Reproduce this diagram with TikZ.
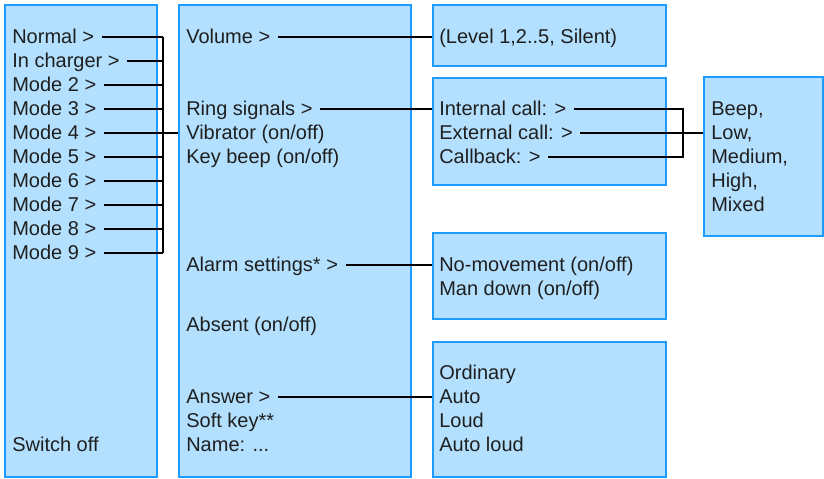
\documentclass[tikz,border=0pt]{standalone}
\usepackage{fontspec}
\setmainfont{Liberation Sans}
\usepackage{tikz}
\usetikzlibrary{positioning}
\definecolor{menufill}{HTML}{B3E0FF}
\definecolor{menuline}{HTML}{1E9BFF}
\tikzstyle{menu}=[rectangle, draw=menuline, fill=menufill, line width=1.5pt, anchor=north west, inner sep=0pt]
\tikzstyle{item}=[anchor=west, inner xsep=5.5pt, inner ysep=0pt, font=\fontsize{15}{18}\selectfont, text=black!88]
\tikzstyle{link}=[line width=1.6pt, black]

\begin{document}
\begin{tikzpicture}[x=0.75pt,y=-0.75pt,text height=11.5pt,text depth=2pt]
     \useasboundingbox (0,0) rectangle (824,478);
     % menu boxes
     \node (modes) [menu, minimum width=114pt, minimum height=354pt] at (4,4) {};
     \node (settings) [menu, minimum width=174pt, minimum height=354pt] at (178,4) {};
     \node (levels) [menu, minimum width=174.75pt, minimum height=45.75pt] at (432,4) {};
     \node (calls) [menu, minimum width=174.75pt, minimum height=80.25pt] at (432,77) {};
     \node (tones) [menu, minimum width=89.25pt, minimum height=119.25pt] at (703,76) {};
     \node (alarms) [menu, minimum width=174.75pt, minimum height=64.5pt] at (432,232) {};
     \node (answers) [menu, minimum width=174.75pt, minimum height=101.25pt] at (432,341) {};
     % profiles
     \foreach \n/\t [count=\k from 0] in {normal/Normal >, charger/In charger >, mode2/Mode 2 >,
       mode3/Mode 3 >, mode4/Mode 4 >, mode5/Mode 5 >, mode6/Mode 6 >, mode7/Mode 7 >,
       mode8/Mode 8 >, mode9/Mode 9 >}
       \node (\n) [item] at (4.7,{36.7+24*\k}) {\t};
     \node (switchoff) [item] at (4.7,{36.7+24*17}) {Switch off};
     % settings
     \node (volume) [item] at (178.7,36.7) {Volume >};
     \node (ring) [item] at (178.7,{36.7+24*3}) {Ring signals >};
     \node (vibrator) [item] at (178.7,{36.7+24*4}) {Vibrator (on/off)};
     \node (keybeep) [item] at (178.7,{36.7+24*5}) {Key beep (on/off)};
     \node (alarm) [item] at (178.7,{36.7+24*9.5}) {Alarm settings* >};
     \node (absent) [item] at (178.7,{36.7+24*12}) {Absent (on/off)};
     \node (answer) [item] at (178.7,{36.7+24*15}) {Answer >};
     \node (softkey) [item] at (178.7,{36.7+24*16}) {Soft key**};
     \node (name) [item] at (178.7,{36.7+24*17}) {Name: ...};
     % sub menus
     \node (level) [item] at (431.7,36.7) {(Level 1,2..5, Silent)};
     \node (internal) [item] at (431.7,{36.7+24*3}) {Internal call: >};
     \node (external) [item] at (431.7,{36.7+24*4}) {External call: >};
     \node (callback) [item] at (431.7,{36.7+24*5}) {Callback: >};
     \node (nomove) [item] at (431.7,{36.7+24*9.5}) {No-movement (on/off)};
     \node (mandown) [item] at (431.7,{36.7+24*10.5}) {Man down (on/off)};
     \foreach \n/\t [count=\k from 14] in {ordinary/Ordinary, auto/Auto, loud/Loud, autoloud/Auto loud}
       \node (\n) [item] at (431.7,{36.7+24*\k}) {\t};
     \foreach \n/\t [count=\k from 3] in {beep/{Beep,}, low/{Low,}, medium/{Medium,}, high/{High,}, mixed/Mixed}
       \node (\n) [item] at (703.7,{36.7+24*\k}) {\t};
     % connectors
     \coordinate (bar) at (163,0);
     \draw[link] (normal.east -| bar) -- (mode9.east -| bar);
     \foreach \n in {normal,charger,mode2,mode3,mode5,mode6,mode7,mode8,mode9}
       \draw[link] (\n.east) -- (\n.east -| bar);
     \draw[link] (mode4.east) -- (mode4.east -| settings.west);
     \draw[link] (volume.east) -- (volume.east -| levels.west);
     \draw[link] (ring.east) -- (ring.east -| calls.west);
     \draw[link] (alarm.east) -- (alarm.east -| alarms.west);
     \draw[link] (answer.east) -- (answer.east -| answers.west);
     \coordinate (fork) at (683,0);
     \draw[link] (internal.east) -- (internal.east -| fork) -- (callback.east -| fork) -- (callback.east);
     \draw[link] (external.east) -- (external.east -| tones.west);
\end{tikzpicture}
\end{document}
